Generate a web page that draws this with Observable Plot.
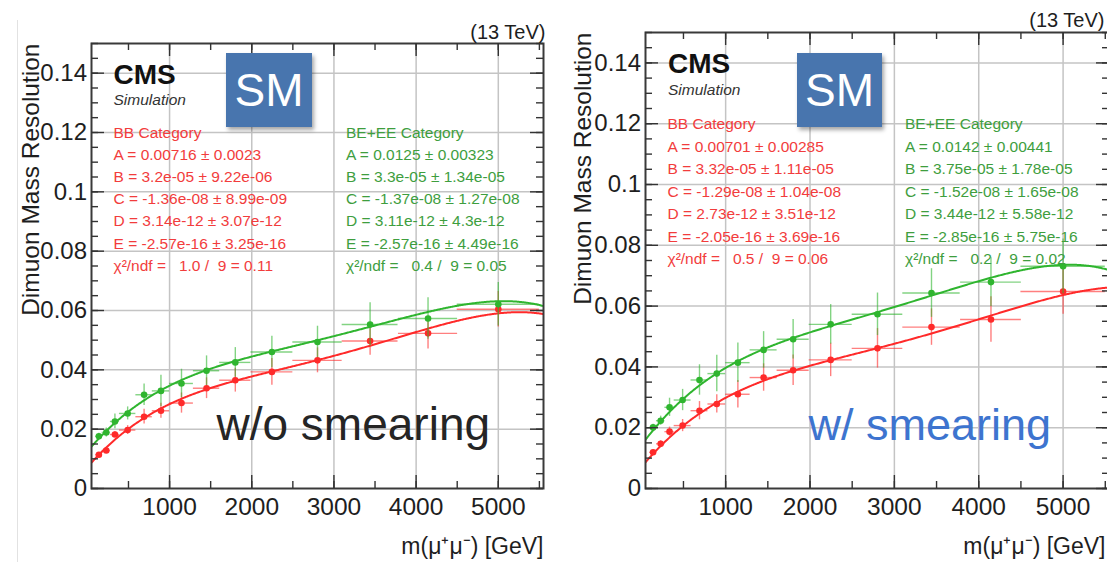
<!DOCTYPE html>
<html>
<head>
<meta charset="utf-8">
<script src="https://cdn.jsdelivr.net/npm/d3@7"></script>
<script src="https://cdn.jsdelivr.net/npm/@observablehq/plot@0.6"></script>
<style>
  html, body { margin: 0; padding: 0; background: #fff; overflow: hidden; }
  #page { position: relative; width: 1107px; height: 562px; overflow: hidden; background: #fff;
          font-family: "Liberation Sans", Arial, Helvetica, sans-serif; }
  .panel { position: absolute; top: 0; }
  .sm { position: absolute; background: #4875ae; color: #fff; font-size: 46px;
        font-family: "Liberation Sans", Arial, Helvetica, sans-serif;
        display: flex; align-items: center; justify-content: center;
        box-shadow: 2px 3px 4px rgba(0,0,0,0.35); }
  .edge { position: absolute; left: 17px; top: 20px; width: 1px; height: 542px; background: #e2e2e2; }
</style>
</head>
<body>
<div id="page"><div class="edge"></div></div>
<script>
// ---- Mass points (bin centres) and half bin widths, GeV ----
const massPoints    = [140, 230, 335, 490, 690, 895, 1145, 1450, 1800, 2245, 2800, 3440, 4145, 5000];
const massHalfWidth = [40, 50, 55, 100, 100, 105, 145, 160, 190, 255, 300, 340, 360, 500];

// ---- Resolution without smearing ----
const bbNoSmear    = [0.0114, 0.0128, 0.0182, 0.0197, 0.0242, 0.0262, 0.0288, 0.0338, 0.0365, 0.0393, 0.0432, 0.0497, 0.0523, 0.0604];
const bbNoSmearErr = [0.0006, 0.0008, 0.0010, 0.0015, 0.0025, 0.0025, 0.0034, 0.0035, 0.0040, 0.0045, 0.0042, 0.0048, 0.0053, 0.0060];
const beNoSmear    = [0.0176, 0.0189, 0.0226, 0.0253, 0.0316, 0.0329, 0.0354, 0.0397, 0.0425, 0.0460, 0.0494, 0.0553, 0.0573, 0.0621];
const beNoSmearErr = [0.0010, 0.0015, 0.0025, 0.0022, 0.0036, 0.0053, 0.0048, 0.0050, 0.0050, 0.0053, 0.0053, 0.0073, 0.0070, 0.0073];

// ---- Resolution with smearing ----
const bbSmear    = [0.0119, 0.0147, 0.0187, 0.0207, 0.0256, 0.0278, 0.0310, 0.0365, 0.0389, 0.0423, 0.0461, 0.0531, 0.0556, 0.0648];
const bbSmearErr = [0.0008, 0.0010, 0.0015, 0.0020, 0.0030, 0.0030, 0.0045, 0.0045, 0.0050, 0.0055, 0.0065, 0.0060, 0.0075, 0.0075];
const beSmear    = [0.0201, 0.0223, 0.0267, 0.0291, 0.0357, 0.0378, 0.0414, 0.0456, 0.0491, 0.0540, 0.0573, 0.0643, 0.0679, 0.0731];
const beSmearErr = [0.0010, 0.0015, 0.0030, 0.0035, 0.0050, 0.0060, 0.0065, 0.0060, 0.0065, 0.0065, 0.0070, 0.0080, 0.0080, 0.0090];

// ---- Fit results: 4th-order polynomial A + B m + C m^2 + D m^3 + E m^4 ----
const parNames = ["A", "B", "C", "D", "E"];
const bbNoSmearFit    = [0.00716, 3.2e-05, -1.36e-08, 3.14e-12, -2.57e-16];
const bbNoSmearFitErr = [0.0023, 9.22e-06, 8.99e-09, 3.07e-12, 3.25e-16];
const bbNoSmearChi2   = [1.0, 9, 0.11];
const beNoSmearFit    = [0.0125, 3.3e-05, -1.37e-08, 3.11e-12, -2.57e-16];
const beNoSmearFitErr = [0.00323, 1.34e-05, 1.27e-08, 4.3e-12, 4.49e-16];
const beNoSmearChi2   = [0.4, 9, 0.05];
const bbSmearFit      = [0.00701, 3.32e-05, -1.29e-08, 2.73e-12, -2.05e-16];
const bbSmearFitErr   = [0.00285, 1.11e-05, 1.04e-08, 3.51e-12, 3.69e-16];
const bbSmearChi2     = [0.5, 9, 0.06];
const beSmearFit      = [0.0142, 3.75e-05, -1.52e-08, 3.44e-12, -2.85e-16];
const beSmearFitErr   = [0.00441, 1.78e-05, 1.65e-08, 5.58e-12, 5.75e-16];
const beSmearChi2     = [0.2, 9, 0.02];

// ---- Axes ----
const xDomain = [50, 5550];
const yDomain = [0, 0.15];
const xTicks = [1000, 2000, 3000, 4000, 5000];
const yTicks = [0, 0.02, 0.04, 0.06, 0.08, 0.1, 0.12, 0.14];
const xMinorTicks = d3.range(500, 5550, 500);
const yMinorTicks = d3.range(0, 0.1501, 0.005);

const FONT = '"Liberation Sans", Arial, Helvetica, sans-serif';
const RED = "#ff2a2a", GREEN = "#2fb52f";
const RED_TEXT = "#f23c3c", GREEN_TEXT = "#3e9e3e";
const PAGE_H = 562;

const fmtPar = v => Math.abs(v) < 1e-4
  ? v.toExponential().replace(/e([+-])(\d)$/, (_, s, d) => `e${s}0${d}`)
  : String(v);
const chiLine = c => `\u03c7\u00b2/ndf =\u00a0\u00a0 ${c[0].toFixed(1)} /\u00a0 ${c[1]} = ${c[2].toFixed(2)}`;
const statLines = (name, fit, err, chi) => [
  `${name} Category`,
  ...parNames.map((n, i) => `${n} = ${fmtPar(fit[i])} \u00b1 ${fmtPar(err[i])}`),
  chiLine(chi)
];

const panels = [
  {
    left: 0, width: 560, marginLeft: 91, marginRight: 17, marginTop: 43, marginBottom: 74,
    bb: bbNoSmear, bbErr: bbNoSmearErr, be: beNoSmear, beErr: beNoSmearErr,
    bbFit: bbNoSmearFit, bbFitErr: bbNoSmearFitErr, bbChi2: bbNoSmearChi2,
    beFit: beNoSmearFit, beFitErr: beNoSmearFitErr, beChi2: beNoSmearChi2,
    label: "w/o smearing", labelColor: "#252525", labelSize: 46, labelDx: 125, labelDy: 396,
    cmsDx: 22, cmsDy: 40, simDy: 61,
    statDy: 94, statStep: 22.2, redDx: 22, greenDx: 254.5,
    yTitleDx: -53, energyDx: 2, energyDy: -5, xTitleDx: 0,
    box: {left: 226, top: 53, width: 86, height: 74}
  },
  {
    left: 555, width: 580, marginLeft: 90, marginRight: 26, marginTop: 32, marginBottom: 74,
    bb: bbSmear, bbErr: bbSmearErr, be: beSmear, beErr: beSmearErr,
    bbFit: bbSmearFit, bbFitErr: bbSmearFitErr, bbChi2: bbSmearChi2,
    beFit: beSmearFit, beFitErr: beSmearFitErr, beChi2: beSmearChi2,
    label: "w/ smearing", labelColor: "#3d74cf", labelSize: 45, labelDx: 163, labelDy: 407,
    cmsDx: 22.5, cmsDy: 40, simDy: 62,
    statDy: 96.5, statStep: 22.5, redDx: 22, greenDx: 259.5,
    yTitleDx: -55, energyDx: -5, energyDy: -6, xTitleDx: -4,
    box: {left: 797, top: 53, width: 85, height: 74}
  }
];

const fitMass = d3.range(xDomain[0], xDomain[1] + 1, 10);
const curve = c => fitMass.map(m => ({m, v: c[0] + c[1] * m + c[2] * m ** 2 + c[3] * m ** 3 + c[4] * m ** 4}));
const points = (vals, errs) => massPoints.map((m, i) => ({m, me: massHalfWidth[i], v: vals[i], e: errs[i]}));

function seriesMarks(pts, fit, color) {
  return [
    Plot.line(curve(fit), {x: "m", y: "v", stroke: color, strokeWidth: 2, clip: "frame"}),
    Plot.ruleY(pts, {y: "v", x1: d => d.m - d.me, x2: d => d.m + d.me, stroke: color, strokeWidth: 1.4, strokeOpacity: 0.6}),
    Plot.ruleX(pts, {x: "m", y1: d => d.v - d.e, y2: d => d.v + d.e, stroke: color, strokeWidth: 1.4, strokeOpacity: 0.6}),
    Plot.dot(pts, {x: "m", y: "v", r: 3.3, fill: color})
  ];
}

function textLine(s, dx, dy, opts) {
  return Plot.text([s], {text: d => d, frameAnchor: "top-left", textAnchor: "start", lineAnchor: "bottom",
                         dx, dy, fontFamily: FONT, ...opts});
}

function makePanel(p) {
  const fw = p.width - p.marginLeft - p.marginRight;
  const fh = PAGE_H - p.marginTop - p.marginBottom;
  const tickStyle = {stroke: "#333", strokeWidth: 1.4};
  const redStats = statLines("BB", p.bbFit, p.bbFitErr, p.bbChi2);
  const greenStats = statLines("BE+EE", p.beFit, p.beFitErr, p.beChi2);

  return Plot.plot({
    width: p.width, height: PAGE_H,
    marginLeft: p.marginLeft, marginRight: p.marginRight, marginTop: p.marginTop, marginBottom: p.marginBottom,
    x: {domain: xDomain}, y: {domain: yDomain},
    axis: null,
    style: {background: "transparent", maxWidth: "none", overflow: "visible", color: "#1e1e1e", fontFamily: FONT},
    marks: [
      Plot.gridX(xTicks, {stroke: "#c4c4c4", strokeOpacity: 1, strokeWidth: 1.5}),
      Plot.gridY(yTicks.slice(1), {stroke: "#c4c4c4", strokeOpacity: 1, strokeWidth: 1.5}),
      ...seriesMarks(points(p.bb, p.bbErr), p.bbFit, RED),
      ...seriesMarks(points(p.be, p.beErr), p.beFit, GREEN),
      Plot.frame({stroke: "#3a3a3a", strokeWidth: 2}),
      // inward ticks on all four sides
      Plot.tickX(xTicks, {insetTop: fh - 13, ...tickStyle}),
      Plot.tickX(xMinorTicks, {insetTop: fh - 7, ...tickStyle}),
      Plot.tickX(xTicks, {insetBottom: fh - 13, ...tickStyle}),
      Plot.tickX(xMinorTicks, {insetBottom: fh - 7, ...tickStyle}),
      Plot.tickY(yTicks, {insetRight: fw - 13, ...tickStyle}),
      Plot.tickY(yMinorTicks, {insetRight: fw - 7, ...tickStyle}),
      Plot.tickY(yTicks, {insetLeft: fw - 13, ...tickStyle}),
      Plot.tickY(yMinorTicks, {insetLeft: fw - 7, ...tickStyle}),
      // tick labels
      Plot.axisY(yTicks, {anchor: "left", tickSize: 0, tickPadding: 4.5, fontSize: 24, fill: "#1e1e1e",
                          tickFormat: d => String(d), label: null}),
      Plot.axisX(xTicks, {anchor: "bottom", tickSize: 0, tickPadding: 9, fontSize: 24.5, fill: "#1e1e1e",
                          tickFormat: d => String(d), label: null}),
      // axis titles
      Plot.text(["Dimuon Mass Resolution"], {text: d => d, frameAnchor: "top-left", rotate: -90,
        textAnchor: "end", lineAnchor: "bottom", dx: p.yTitleDx, dy: 0, fontSize: 24.5, fill: "#1e1e1e", fontFamily: FONT}),
      Plot.text(["m(\u03bc\u207a\u03bc\u207b) [GeV]"], {text: d => d, frameAnchor: "bottom-right",
        textAnchor: "end", lineAnchor: "bottom", dx: p.xTitleDx, dy: 65, fontSize: 23, fill: "#1e1e1e", fontFamily: FONT}),
      Plot.text(["(13 TeV)"], {text: d => d, frameAnchor: "top-right", textAnchor: "end", lineAnchor: "bottom",
        dx: p.energyDx, dy: p.energyDy, fontSize: 20, fill: "#1e1e1e", fontFamily: FONT}),
      // CMS label
      textLine("CMS", p.cmsDx, p.cmsDy, {fontSize: 28, fontWeight: "bold", fill: "#111"}),
      textLine("Simulation", p.cmsDx, p.simDy, {fontSize: 15.5, fontStyle: "italic", fill: "#333"}),
      // fit results
      ...redStats.map((s, i) => textLine(s, p.redDx, p.statDy + i * p.statStep, {fontSize: 15.5, fill: RED_TEXT})),
      ...greenStats.map((s, i) => textLine(s, p.greenDx, p.statDy + i * p.statStep, {fontSize: 15.5, fill: GREEN_TEXT})),
      // sample label
      textLine(p.label, p.labelDx, p.labelDy, {fontSize: p.labelSize, fill: p.labelColor})
    ]
  });
}

const page = document.getElementById("page");
for (const p of panels) {
  const holder = document.createElement("div");
  holder.className = "panel";
  holder.style.left = p.left + "px";
  holder.style.width = p.width + "px";
  holder.appendChild(makePanel(p));
  page.appendChild(holder);
}
for (const p of panels) {
  const box = document.createElement("div");
  box.className = "sm";
  Object.assign(box.style, {left: p.box.left + "px", top: p.box.top + "px",
                            width: p.box.width + "px", height: p.box.height + "px"});
  box.textContent = "SM";
  page.appendChild(box);
}
</script>
</body>
</html>
